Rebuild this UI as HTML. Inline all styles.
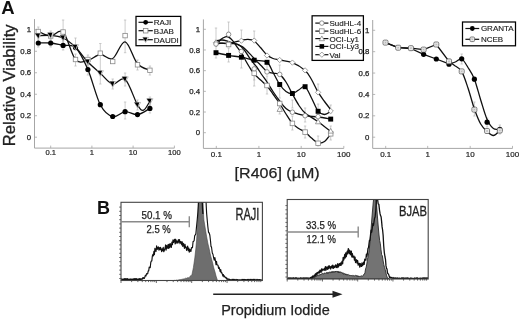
<!DOCTYPE html>
<html><head><meta charset="utf-8"><style>
html,body{margin:0;padding:0;background:#fff;width:520px;height:319px;overflow:hidden;}
svg{display:block;font-family:"Liberation Sans",sans-serif;will-change:transform;}
</style></head><body>
<svg width="520" height="319" viewBox="0 0 520 319" font-family="Liberation Sans, sans-serif">
<rect width="520" height="319" fill="#fff"/>
<text x="1.2" y="13.9" font-size="18.5" text-anchor="start" font-weight="bold" fill="#111" >A</text>
<text x="97.1" y="214.1" font-size="18" text-anchor="start" font-weight="bold" fill="#111" >B</text>
<text transform="translate(14.6,146.2) rotate(-90)" font-size="16.2" fill="#222" stroke="#222" stroke-width="0.3" textLength="121.8" lengthAdjust="spacingAndGlyphs">Relative Viability</text>
<text x="234.6" y="178" font-size="14.8" fill="#222" stroke="#222" stroke-width="0.25" textLength="85" lengthAdjust="spacingAndGlyphs">[R406] (&#181;M)</text>
<path d="M34.5,19.1 L34.5,148.1 L174.4,148.1" fill="none" stroke="#a6a6a6" stroke-width="1"/>
<path d="M34.5,137.2 L37,137.2" stroke="#a6a6a6" stroke-width="0.8"/>
<text x="31.2" y="139.8" font-size="7.8" text-anchor="end" font-weight="normal" fill="#222" stroke="#222" stroke-width="0.25">0</text>
<path d="M34.5,115.72 L37,115.72" stroke="#a6a6a6" stroke-width="0.8"/>
<text x="31.2" y="118.32" font-size="7.8" text-anchor="end" font-weight="normal" fill="#222" stroke="#222" stroke-width="0.25">0.2</text>
<path d="M34.5,94.24 L37,94.24" stroke="#a6a6a6" stroke-width="0.8"/>
<text x="31.2" y="96.84" font-size="7.8" text-anchor="end" font-weight="normal" fill="#222" stroke="#222" stroke-width="0.25">0.4</text>
<path d="M34.5,72.76 L37,72.76" stroke="#a6a6a6" stroke-width="0.8"/>
<text x="31.2" y="75.36" font-size="7.8" text-anchor="end" font-weight="normal" fill="#222" stroke="#222" stroke-width="0.25">0.6</text>
<path d="M34.5,51.28 L37,51.28" stroke="#a6a6a6" stroke-width="0.8"/>
<text x="31.2" y="53.88" font-size="7.8" text-anchor="end" font-weight="normal" fill="#222" stroke="#222" stroke-width="0.25">0.8</text>
<path d="M34.5,29.8 L37,29.8" stroke="#a6a6a6" stroke-width="0.8"/>
<text x="31.2" y="32.4" font-size="7.8" text-anchor="end" font-weight="normal" fill="#222" stroke="#222" stroke-width="0.25">1</text>
<path d="M50.7,148.1 L50.7,145.6" stroke="#a6a6a6" stroke-width="0.8"/>
<text x="50.7" y="155" font-size="7.6" text-anchor="middle" font-weight="normal" fill="#222" stroke="#222" stroke-width="0.2">0.1</text>
<path d="M91.9,148.1 L91.9,145.6" stroke="#a6a6a6" stroke-width="0.8"/>
<text x="91.9" y="155" font-size="7.6" text-anchor="middle" font-weight="normal" fill="#222" stroke="#222" stroke-width="0.2">1</text>
<path d="M133.1,148.1 L133.1,145.6" stroke="#a6a6a6" stroke-width="0.8"/>
<text x="133.1" y="155" font-size="7.6" text-anchor="middle" font-weight="normal" fill="#222" stroke="#222" stroke-width="0.2">10</text>
<path d="M174.4,148.1 L174.4,145.6" stroke="#a6a6a6" stroke-width="0.8"/>
<text x="174.4" y="155" font-size="7.6" text-anchor="middle" font-weight="normal" fill="#222" stroke="#222" stroke-width="0.2">100</text>
<path d="M38.3,27 L38.3,36 M37.1,27 L39.5,27 M37.1,36 L39.5,36" stroke="#b8b8b8" stroke-width="0.7" fill="none"/>
<path d="M38.3,39 L38.3,47 M37.1,39 L39.5,39 M37.1,47 L39.5,47" stroke="#b8b8b8" stroke-width="0.7" fill="none"/>
<path d="M50.7,31 L50.7,40 M49.5,31 L51.9,31 M49.5,40 L51.9,40" stroke="#b8b8b8" stroke-width="0.7" fill="none"/>
<path d="M50.7,40 L50.7,47 M49.5,40 L51.9,40 M49.5,47 L51.9,47" stroke="#b8b8b8" stroke-width="0.7" fill="none"/>
<path d="M63.1,20 L63.1,45 M61.9,20 L64.3,20 M61.9,45 L64.3,45" stroke="#b8b8b8" stroke-width="0.7" fill="none"/>
<path d="M63.1,41 L63.1,50 M61.9,41 L64.3,41 M61.9,50 L64.3,50" stroke="#b8b8b8" stroke-width="0.7" fill="none"/>
<path d="M75.5,38 L75.5,50 M74.3,38 L76.7,38 M74.3,50 L76.7,50" stroke="#b8b8b8" stroke-width="0.7" fill="none"/>
<path d="M75.5,54 L75.5,66 M74.3,54 L76.7,54 M74.3,66 L76.7,66" stroke="#b8b8b8" stroke-width="0.7" fill="none"/>
<path d="M87.9,55 L87.9,66 M86.7,55 L89.1,55 M86.7,66 L89.1,66" stroke="#b8b8b8" stroke-width="0.7" fill="none"/>
<path d="M87.9,64 L87.9,75 M86.7,64 L89.1,64 M86.7,75 L89.1,75" stroke="#b8b8b8" stroke-width="0.7" fill="none"/>
<path d="M100.3,43.5 L100.3,84 M99.1,43.5 L101.5,43.5 M99.1,84 L101.5,84" stroke="#b8b8b8" stroke-width="0.7" fill="none"/>
<path d="M112.7,79 L112.7,89 M111.5,79 L113.9,79 M111.5,89 L113.9,89" stroke="#b8b8b8" stroke-width="0.7" fill="none"/>
<path d="M125.1,20 L125.1,52.7 M123.9,20 L126.3,20 M123.9,52.7 L126.3,52.7" stroke="#b8b8b8" stroke-width="0.7" fill="none"/>
<path d="M125.1,102 L125.1,119 M123.9,102 L126.3,102 M123.9,119 L126.3,119" stroke="#b8b8b8" stroke-width="0.7" fill="none"/>
<path d="M125.1,73 L125.1,86 M123.9,73 L126.3,73 M123.9,86 L126.3,86" stroke="#b8b8b8" stroke-width="0.7" fill="none"/>
<path d="M137.5,60 L137.5,70 M136.3,60 L138.7,60 M136.3,70 L138.7,70" stroke="#b8b8b8" stroke-width="0.7" fill="none"/>
<path d="M137.5,100 L137.5,110 M136.3,100 L138.7,100 M136.3,110 L138.7,110" stroke="#b8b8b8" stroke-width="0.7" fill="none"/>
<path d="M149.9,66 L149.9,75 M148.7,66 L151.1,66 M148.7,75 L151.1,75" stroke="#b8b8b8" stroke-width="0.7" fill="none"/>
<path d="M149.9,97 L149.9,106 M148.7,97 L151.1,97 M148.7,106 L151.1,106" stroke="#b8b8b8" stroke-width="0.7" fill="none"/>
<path d="M149.9,104 L149.9,113 M148.7,104 L151.1,104 M148.7,113 L151.1,113" stroke="#b8b8b8" stroke-width="0.7" fill="none"/>
<path d="M38.3,31.5 C40.37,32.25 46.57,35.92 50.7,36 C54.83,36.08 58.97,28.08 63.1,32 C67.23,35.92 71.37,54.75 75.5,59.5 C79.63,64.25 83.77,61.33 87.9,60.5 C92.03,59.67 96.17,54.83 100.3,54.5 C104.43,54.17 108.57,60.62 112.7,58.5 C116.83,56.38 120.97,40.93 125.1,41.8 C129.23,42.67 133.37,58.95 137.5,63.7 C141.63,68.45 147.83,69.2 149.9,70.3" fill="none" stroke="#111" stroke-width="1.3" stroke-linejoin="round"/>
<path d="M38.3,35.9 C40.37,35.8 46.57,34.95 50.7,35.3 C54.83,35.65 58.97,36.02 63.1,38 C67.23,39.98 71.37,43.2 75.5,47.2 C79.63,51.2 83.77,57.67 87.9,62 C92.03,66.33 96.17,69.52 100.3,73.2 C104.43,76.88 108.57,83.08 112.7,84.1 C116.83,85.12 120.97,75.83 125.1,79.3 C129.23,82.77 134.42,99.75 137.5,104.9 C140.58,110.05 141.53,110.82 143.6,110.2 C145.67,109.58 148.85,102.7 149.9,101.2" fill="none" stroke="#111" stroke-width="1.3" stroke-linejoin="round"/>
<path d="M38.3,43 C40.37,43 46.57,42.6 50.7,43 C54.83,43.4 58.97,44.65 63.1,45.4 C67.23,46.15 71.37,43.48 75.5,47.5 C79.63,51.52 83.77,59.97 87.9,69.5 C92.03,79.03 96.17,96.87 100.3,104.7 C104.43,112.53 108.57,115.33 112.7,116.5 C116.83,117.67 120.97,112.02 125.1,111.7 C129.23,111.38 133.37,115.15 137.5,114.6 C141.63,114.05 147.83,109.43 149.9,108.4" fill="none" stroke="#111" stroke-width="1.3" stroke-linejoin="round"/>
<circle cx="38.3" cy="43" r="2.6" fill="#000"/>
<circle cx="50.7" cy="43" r="2.6" fill="#000"/>
<circle cx="63.1" cy="45.4" r="2.6" fill="#000"/>
<circle cx="75.5" cy="47.5" r="2.6" fill="#000"/>
<circle cx="87.9" cy="69.5" r="2.6" fill="#000"/>
<circle cx="100.3" cy="104.7" r="2.6" fill="#000"/>
<circle cx="112.7" cy="116.5" r="2.6" fill="#000"/>
<circle cx="125.1" cy="111.7" r="2.6" fill="#000"/>
<circle cx="137.5" cy="114.6" r="2.6" fill="#000"/>
<circle cx="149.9" cy="108.4" r="2.6" fill="#000"/>
<rect x="36.07" y="29.27" width="4.46" height="4.46" fill="#fff" stroke="#888" stroke-width="0.8"/>
<rect x="48.47" y="33.77" width="4.46" height="4.46" fill="#fff" stroke="#888" stroke-width="0.8"/>
<rect x="60.87" y="29.77" width="4.46" height="4.46" fill="#fff" stroke="#888" stroke-width="0.8"/>
<rect x="73.27" y="57.27" width="4.46" height="4.46" fill="#fff" stroke="#888" stroke-width="0.8"/>
<rect x="85.67" y="57.27" width="4.46" height="4.46" fill="#fff" stroke="#888" stroke-width="0.8"/>
<rect x="98.07" y="50.97" width="4.46" height="4.46" fill="#fff" stroke="#888" stroke-width="0.8"/>
<rect x="110.47" y="59.27" width="4.46" height="4.46" fill="#fff" stroke="#888" stroke-width="0.8"/>
<rect x="122.87" y="33.37" width="4.46" height="4.46" fill="#fff" stroke="#888" stroke-width="0.8"/>
<rect x="135.27" y="62.57" width="4.46" height="4.46" fill="#fff" stroke="#888" stroke-width="0.8"/>
<rect x="147.67" y="68.07" width="4.46" height="4.46" fill="#fff" stroke="#888" stroke-width="0.8"/>
<path d="M35.18,33.4 L41.42,33.4 L38.3,39.02 Z" fill="#fff" stroke="#999" stroke-width="0.6"/>
<path d="M35.18,33.4 L40.02,33.4 L38.46,38.24 Z" fill="#000"/>
<path d="M47.58,32.8 L53.82,32.8 L50.7,38.42 Z" fill="#fff" stroke="#999" stroke-width="0.6"/>
<path d="M47.58,32.8 L52.42,32.8 L50.86,37.64 Z" fill="#000"/>
<path d="M59.98,35.5 L66.22,35.5 L63.1,41.12 Z" fill="#fff" stroke="#999" stroke-width="0.6"/>
<path d="M59.98,35.5 L64.82,35.5 L63.26,40.34 Z" fill="#000"/>
<path d="M72.38,44.7 L78.62,44.7 L75.5,50.32 Z" fill="#fff" stroke="#999" stroke-width="0.6"/>
<path d="M72.38,44.7 L77.22,44.7 L75.66,49.54 Z" fill="#000"/>
<path d="M84.78,59.5 L91.02,59.5 L87.9,65.12 Z" fill="#fff" stroke="#999" stroke-width="0.6"/>
<path d="M84.78,59.5 L89.62,59.5 L88.06,64.34 Z" fill="#000"/>
<path d="M97.18,70.7 L103.42,70.7 L100.3,76.32 Z" fill="#fff" stroke="#999" stroke-width="0.6"/>
<path d="M97.18,70.7 L102.02,70.7 L100.46,75.54 Z" fill="#000"/>
<path d="M109.58,81.6 L115.82,81.6 L112.7,87.22 Z" fill="#fff" stroke="#999" stroke-width="0.6"/>
<path d="M109.58,81.6 L114.42,81.6 L112.86,86.44 Z" fill="#000"/>
<path d="M121.98,76.8 L128.22,76.8 L125.1,82.42 Z" fill="#fff" stroke="#999" stroke-width="0.6"/>
<path d="M121.98,76.8 L126.82,76.8 L125.26,81.64 Z" fill="#000"/>
<path d="M134.38,102.4 L140.62,102.4 L137.5,108.02 Z" fill="#fff" stroke="#999" stroke-width="0.6"/>
<path d="M134.38,102.4 L139.22,102.4 L137.66,107.24 Z" fill="#000"/>
<path d="M146.78,98.7 L153.02,98.7 L149.9,104.32 Z" fill="#fff" stroke="#999" stroke-width="0.6"/>
<path d="M146.78,98.7 L151.62,98.7 L150.06,103.54 Z" fill="#000"/>
<rect x="136" y="16.4" width="44.8" height="29.3" fill="#fff" stroke="#000" stroke-width="1.25"/>
<path d="M138.5,22.3 L152.8,22.3" stroke="#111" stroke-width="1.2"/>
<circle cx="145.65" cy="22.3" r="2.4" fill="#000"/>
<text x="153.8" y="25.2" font-size="8" text-anchor="start" font-weight="normal" fill="#222" stroke="#222" stroke-width="0.15">RAJI</text>
<path d="M138.5,30.7 L152.8,30.7" stroke="#111" stroke-width="1.2"/>
<rect x="143.37" y="28.42" width="4.56" height="4.56" fill="#fff" stroke="#888" stroke-width="0.8"/>
<text x="153.8" y="33.6" font-size="8" text-anchor="start" font-weight="normal" fill="#222" stroke="#222" stroke-width="0.15">BJAB</text>
<path d="M138.5,39.7 L152.8,39.7" stroke="#111" stroke-width="1.2"/>
<path d="M142.77,37.4 L148.53,37.4 L145.65,42.58 Z" fill="#fff" stroke="#999" stroke-width="0.6"/>
<path d="M142.77,37.4 L147.23,37.4 L145.79,41.86 Z" fill="#000"/>
<text x="153.8" y="42.6" font-size="8" text-anchor="start" font-weight="normal" fill="#222" stroke="#222" stroke-width="0.15">DAUDI</text>
<path d="M203.4,19.4 L203.4,148.4 L343.8,148.4" fill="none" stroke="#a6a6a6" stroke-width="1"/>
<path d="M203.4,132.7 L205.9,132.7" stroke="#a6a6a6" stroke-width="0.8"/>
<text x="200.1" y="135.3" font-size="7.8" text-anchor="end" font-weight="normal" fill="#222" stroke="#222" stroke-width="0.25">0</text>
<path d="M203.4,112.02 L205.9,112.02" stroke="#a6a6a6" stroke-width="0.8"/>
<text x="200.1" y="114.62" font-size="7.8" text-anchor="end" font-weight="normal" fill="#222" stroke="#222" stroke-width="0.25">0.2</text>
<path d="M203.4,91.34 L205.9,91.34" stroke="#a6a6a6" stroke-width="0.8"/>
<text x="200.1" y="93.94" font-size="7.8" text-anchor="end" font-weight="normal" fill="#222" stroke="#222" stroke-width="0.25">0.4</text>
<path d="M203.4,70.66 L205.9,70.66" stroke="#a6a6a6" stroke-width="0.8"/>
<text x="200.1" y="73.26" font-size="7.8" text-anchor="end" font-weight="normal" fill="#222" stroke="#222" stroke-width="0.25">0.6</text>
<path d="M203.4,49.98 L205.9,49.98" stroke="#a6a6a6" stroke-width="0.8"/>
<text x="200.1" y="52.58" font-size="7.8" text-anchor="end" font-weight="normal" fill="#222" stroke="#222" stroke-width="0.25">0.8</text>
<path d="M203.4,29.3 L205.9,29.3" stroke="#a6a6a6" stroke-width="0.8"/>
<text x="200.1" y="31.9" font-size="7.8" text-anchor="end" font-weight="normal" fill="#222" stroke="#222" stroke-width="0.25">1</text>
<path d="M216.3,148.4 L216.3,145.9" stroke="#a6a6a6" stroke-width="0.8"/>
<text x="216.3" y="156.5" font-size="8" text-anchor="middle" font-weight="normal" fill="#222" stroke="#222" stroke-width="0.2">0.1</text>
<path d="M258.9,148.4 L258.9,145.9" stroke="#a6a6a6" stroke-width="0.8"/>
<text x="258.9" y="156.5" font-size="8" text-anchor="middle" font-weight="normal" fill="#222" stroke="#222" stroke-width="0.2">1</text>
<path d="M301.2,148.4 L301.2,145.9" stroke="#a6a6a6" stroke-width="0.8"/>
<text x="301.2" y="156.5" font-size="8" text-anchor="middle" font-weight="normal" fill="#222" stroke="#222" stroke-width="0.2">10</text>
<path d="M343.8,148.4 L343.8,145.9" stroke="#a6a6a6" stroke-width="0.8"/>
<text x="343.8" y="156.5" font-size="8" text-anchor="middle" font-weight="normal" fill="#222" stroke="#222" stroke-width="0.2">100</text>
<path d="M216,28 L216,40 M214.8,28 L217.2,28 M214.8,40 L217.2,40" stroke="#b8b8b8" stroke-width="0.7" fill="none"/>
<path d="M216,46 L216,58 M214.8,46 L217.2,46 M214.8,58 L217.2,58" stroke="#b8b8b8" stroke-width="0.7" fill="none"/>
<path d="M228.6,22 L228.6,32 M227.4,22 L229.8,22 M227.4,32 L229.8,32" stroke="#b8b8b8" stroke-width="0.7" fill="none"/>
<path d="M228.6,48 L228.6,62 M227.4,48 L229.8,48 M227.4,62 L229.8,62" stroke="#b8b8b8" stroke-width="0.7" fill="none"/>
<path d="M241.4,30 L241.4,40 M240.2,30 L242.6,30 M240.2,40 L242.6,40" stroke="#b8b8b8" stroke-width="0.7" fill="none"/>
<path d="M241.4,58 L241.4,68 M240.2,58 L242.6,58 M240.2,68 L242.6,68" stroke="#b8b8b8" stroke-width="0.7" fill="none"/>
<path d="M254.2,31 L254.2,39 M253,31 L255.4,31 M253,39 L255.4,39" stroke="#b8b8b8" stroke-width="0.7" fill="none"/>
<path d="M254.2,64 L254.2,80 M253,64 L255.4,64 M253,80 L255.4,80" stroke="#b8b8b8" stroke-width="0.7" fill="none"/>
<path d="M254.2,76 L254.2,86 M253,76 L255.4,76 M253,86 L255.4,86" stroke="#b8b8b8" stroke-width="0.7" fill="none"/>
<path d="M267,76 L267,94 M265.8,76 L268.2,76 M265.8,94 L268.2,94" stroke="#b8b8b8" stroke-width="0.7" fill="none"/>
<path d="M267,64 L267,72 M265.8,64 L268.2,64 M265.8,72 L268.2,72" stroke="#b8b8b8" stroke-width="0.7" fill="none"/>
<path d="M279.7,65 L279.7,73 M278.5,65 L280.9,65 M278.5,73 L280.9,73" stroke="#b8b8b8" stroke-width="0.7" fill="none"/>
<path d="M279.7,88 L279.7,98 M278.5,88 L280.9,88 M278.5,98 L280.9,98" stroke="#b8b8b8" stroke-width="0.7" fill="none"/>
<path d="M279.7,106 L279.7,114 M278.5,106 L280.9,106 M278.5,114 L280.9,114" stroke="#b8b8b8" stroke-width="0.7" fill="none"/>
<path d="M292.4,100 L292.4,108 M291.2,100 L293.6,100 M291.2,108 L293.6,108" stroke="#b8b8b8" stroke-width="0.7" fill="none"/>
<path d="M292.4,116 L292.4,130 M291.2,116 L293.6,116 M291.2,130 L293.6,130" stroke="#b8b8b8" stroke-width="0.7" fill="none"/>
<path d="M305.1,108 L305.1,122 M303.9,108 L306.3,108 M303.9,122 L306.3,122" stroke="#b8b8b8" stroke-width="0.7" fill="none"/>
<path d="M305.1,126 L305.1,138 M303.9,126 L306.3,126 M303.9,138 L306.3,138" stroke="#b8b8b8" stroke-width="0.7" fill="none"/>
<path d="M318.1,84 L318.1,92 M316.9,84 L319.3,84 M316.9,92 L319.3,92" stroke="#b8b8b8" stroke-width="0.7" fill="none"/>
<path d="M318.1,104 L318.1,116 M316.9,104 L319.3,104 M316.9,116 L319.3,116" stroke="#b8b8b8" stroke-width="0.7" fill="none"/>
<path d="M318.1,136 L318.1,146 M316.9,136 L319.3,136 M316.9,146 L319.3,146" stroke="#b8b8b8" stroke-width="0.7" fill="none"/>
<path d="M330.7,105 L330.7,113 M329.5,105 L331.9,105 M329.5,113 L331.9,113" stroke="#b8b8b8" stroke-width="0.7" fill="none"/>
<path d="M330.7,126 L330.7,140 M329.5,126 L331.9,126 M329.5,140 L331.9,140" stroke="#b8b8b8" stroke-width="0.7" fill="none"/>
<path d="M216,42.6 C218.1,42.77 224.37,43.98 228.6,43.6 C232.83,43.22 238.17,41.02 241.4,40.3 C244.63,39.58 245.87,39.18 248,39.3 C250.13,39.42 252.12,39.63 254.2,41 C256.28,42.37 258.37,45.17 260.5,47.5 C262.63,49.83 264.92,53.17 267,55 C269.08,56.83 270.88,57.67 273,58.5 C275.12,59.33 276.47,59.32 279.7,60 C282.93,60.68 288.17,60.87 292.4,62.6 C296.63,64.33 301.92,67.58 305.1,70.4 C308.28,73.22 309.33,75.87 311.5,79.5 C313.67,83.13 315.93,88.53 318.1,92.2 C320.27,95.87 322.4,98.62 324.5,101.5 C326.6,104.38 329.67,108.17 330.7,109.5" fill="none" stroke="#111" stroke-width="1.3" stroke-linejoin="round"/>
<path d="M216,52.7 C218.1,53.15 224.37,54.65 228.6,55.4 C232.83,56.15 237.13,56.4 241.4,57.2 C245.67,58 249.93,59.33 254.2,60.2 C258.47,61.07 263.82,60.27 267,62.4 C270.18,64.53 271.18,69.32 273.3,73 C275.42,76.68 277.58,81.42 279.7,84.5 C281.82,87.58 283.88,90 286,91.5 C288.12,93 290.28,93.75 292.4,93.5 C294.52,93.25 296.58,91.13 298.7,90 C300.82,88.87 302.97,85.37 305.1,86.7 C307.23,88.03 309.33,93.92 311.5,98 C313.67,102.08 315.93,108.45 318.1,111.2 C320.27,113.95 322.4,114.45 324.5,114.5 C326.6,114.55 329.67,112 330.7,111.5" fill="none" stroke="#111" stroke-width="1.3" stroke-linejoin="round"/>
<path d="M216,46 C216.78,44.92 219.13,41.03 220.7,39.5 C222.27,37.97 224.08,37.18 225.4,36.8 C226.72,36.42 227.43,36.6 228.6,37.2 C229.77,37.8 231.12,38.95 232.4,40.4 C233.68,41.85 234.8,43.8 236.3,45.9 C237.8,48 239.83,50.53 241.4,53 C242.97,55.47 244.2,58.1 245.7,60.7 C247.2,63.3 248.98,66.38 250.4,68.6 C251.82,70.82 252.5,72.1 254.2,74 C255.9,75.9 258.47,78 260.6,80 C262.73,82 264.88,83.58 267,86 C269.12,88.42 271.18,91.58 273.3,94.5 C275.42,97.42 277.58,100.25 279.7,103.5 C281.82,106.75 283.88,110.68 286,114 C288.12,117.32 290.28,120.98 292.4,123.4 C294.52,125.82 296.58,127.05 298.7,128.5 C300.82,129.95 302.97,130.52 305.1,132.1 C307.23,133.68 309.33,136.22 311.5,138 C313.67,139.78 315.93,142.22 318.1,142.8 C320.27,143.38 322.4,142.97 324.5,141.5 C326.6,140.03 329.67,135.25 330.7,134" fill="none" stroke="#111" stroke-width="1.3" stroke-linejoin="round"/>
<path d="M216,44 C217,43.87 219.9,43.28 222,43.2 C224.1,43.12 226.6,43.43 228.6,43.5 C230.6,43.57 232.32,43.38 234,43.6 C235.68,43.82 237,43.77 238.7,44.8 C240.4,45.83 242.25,47.4 244.2,49.8 C246.15,52.2 248.32,56.33 250.4,59.2 C252.48,62.07 254.77,64.37 256.7,67 C258.63,69.63 260.28,72.5 262,75 C263.72,77.5 265.12,79.17 267,82 C268.88,84.83 271.18,88.83 273.3,92 C275.42,95.17 277.58,98.25 279.7,101 C281.82,103.75 283.88,106.63 286,108.5 C288.12,110.37 289.22,111 292.4,112.2 C295.58,113.4 300.82,114.9 305.1,115.7 C309.38,116.5 313.83,116.45 318.1,117 C322.37,117.55 328.6,118.67 330.7,119" fill="none" stroke="#111" stroke-width="1.3" stroke-linejoin="round"/>
<path d="M216,41 C217,40.83 219.9,39.92 222,40 C224.1,40.08 226.27,40.83 228.6,41.5 C230.93,42.17 233.67,43.1 236,44 C238.33,44.9 240.45,45.42 242.6,46.9 C244.75,48.38 246.97,50.97 248.9,52.9 C250.83,54.83 252.6,56.82 254.2,58.5 C255.8,60.18 257.2,61.67 258.5,63 C259.8,64.33 260.58,65.07 262,66.5 C263.42,67.93 265.12,70.48 267,71.6 C268.88,72.72 271.18,72.7 273.3,73.2 C275.42,73.7 277.58,73.13 279.7,74.6 C281.82,76.07 283.88,78.77 286,82 C288.12,85.23 290.28,90.17 292.4,94 C294.52,97.83 296.58,101.83 298.7,105 C300.82,108.17 301.87,110.22 305.1,113 C308.33,115.78 313.83,118.62 318.1,121.7 C322.37,124.78 328.6,129.87 330.7,131.5" fill="none" stroke="#111" stroke-width="1.3" stroke-linejoin="round"/>
<path d="M216,39.96 L218.64,42.6 L216,45.24 L213.36,42.6 Z" fill="#fff" stroke="#888" stroke-width="0.8"/>
<path d="M228.6,41.16 L231.24,43.8 L228.6,46.44 L225.96,43.8 Z" fill="#fff" stroke="#888" stroke-width="0.8"/>
<path d="M241.4,38.06 L244.04,40.7 L241.4,43.34 L238.76,40.7 Z" fill="#fff" stroke="#888" stroke-width="0.8"/>
<path d="M254.2,37.96 L256.84,40.6 L254.2,43.24 L251.56,40.6 Z" fill="#fff" stroke="#888" stroke-width="0.8"/>
<path d="M267,52.86 L269.64,55.5 L267,58.14 L264.36,55.5 Z" fill="#fff" stroke="#888" stroke-width="0.8"/>
<path d="M279.7,57.36 L282.34,60 L279.7,62.64 L277.06,60 Z" fill="#fff" stroke="#888" stroke-width="0.8"/>
<path d="M292.4,59.96 L295.04,62.6 L292.4,65.24 L289.76,62.6 Z" fill="#fff" stroke="#888" stroke-width="0.8"/>
<path d="M305.1,67.76 L307.74,70.4 L305.1,73.04 L302.46,70.4 Z" fill="#fff" stroke="#888" stroke-width="0.8"/>
<path d="M318.1,89.76 L320.74,92.4 L318.1,95.04 L315.46,92.4 Z" fill="#fff" stroke="#888" stroke-width="0.8"/>
<path d="M330.7,108.36 L333.34,111 L330.7,113.64 L328.06,111 Z" fill="#fff" stroke="#888" stroke-width="0.8"/>
<circle cx="216" cy="44" r="2.28" fill="#fff" stroke="#777" stroke-width="0.8"/>
<circle cx="228.6" cy="34.4" r="2.28" fill="#fff" stroke="#777" stroke-width="0.8"/>
<circle cx="241.4" cy="51.5" r="2.28" fill="#fff" stroke="#777" stroke-width="0.8"/>
<circle cx="254.2" cy="68.9" r="2.28" fill="#fff" stroke="#777" stroke-width="0.8"/>
<circle cx="267" cy="71.9" r="2.28" fill="#fff" stroke="#777" stroke-width="0.8"/>
<circle cx="279.7" cy="74.4" r="2.28" fill="#fff" stroke="#777" stroke-width="0.8"/>
<circle cx="292.4" cy="112.2" r="2.28" fill="#fff" stroke="#777" stroke-width="0.8"/>
<circle cx="305.1" cy="115.7" r="2.28" fill="#fff" stroke="#777" stroke-width="0.8"/>
<circle cx="318.1" cy="116.6" r="2.28" fill="#fff" stroke="#777" stroke-width="0.8"/>
<rect x="226.32" y="42.22" width="4.56" height="4.56" fill="#fff" stroke="#888" stroke-width="0.8"/>
<rect x="251.92" y="71.02" width="4.56" height="4.56" fill="#fff" stroke="#888" stroke-width="0.8"/>
<rect x="264.72" y="83.22" width="4.56" height="4.56" fill="#fff" stroke="#888" stroke-width="0.8"/>
<rect x="277.42" y="101.22" width="4.56" height="4.56" fill="#fff" stroke="#888" stroke-width="0.8"/>
<rect x="290.12" y="121.12" width="4.56" height="4.56" fill="#fff" stroke="#888" stroke-width="0.8"/>
<rect x="302.82" y="129.82" width="4.56" height="4.56" fill="#fff" stroke="#888" stroke-width="0.8"/>
<rect x="315.82" y="141.02" width="4.56" height="4.56" fill="#fff" stroke="#888" stroke-width="0.8"/>
<rect x="328.42" y="131.52" width="4.56" height="4.56" fill="#fff" stroke="#888" stroke-width="0.8"/>
<path d="M279.7,106.66 L282.34,111.41 L277.06,111.41 Z" fill="#fff" stroke="#888" stroke-width="0.8"/>
<path d="M318.1,119.06 L320.74,123.81 L315.46,123.81 Z" fill="#fff" stroke="#888" stroke-width="0.8"/>
<path d="M330.7,128.36 L333.34,133.11 L328.06,133.11 Z" fill="#fff" stroke="#888" stroke-width="0.8"/>
<rect x="213.53" y="50.23" width="4.94" height="4.94" fill="#000"/>
<rect x="226.13" y="52.93" width="4.94" height="4.94" fill="#000"/>
<rect x="238.93" y="54.73" width="4.94" height="4.94" fill="#000"/>
<rect x="251.73" y="57.73" width="4.94" height="4.94" fill="#000"/>
<rect x="264.53" y="59.83" width="4.94" height="4.94" fill="#000"/>
<rect x="277.23" y="82.03" width="4.94" height="4.94" fill="#000"/>
<rect x="289.93" y="91.03" width="4.94" height="4.94" fill="#000"/>
<rect x="302.63" y="84.23" width="4.94" height="4.94" fill="#000"/>
<rect x="315.63" y="108.83" width="4.94" height="4.94" fill="#000"/>
<rect x="328.23" y="116.63" width="4.94" height="4.94" fill="#000"/>
<rect x="312.1" y="15.8" width="51.3" height="44.6" fill="#fff" stroke="#000" stroke-width="1.25"/>
<path d="M315.3,23.1 L328.4,23.1" stroke="#111" stroke-width="1.2"/>
<circle cx="321.85" cy="23.1" r="2.28" fill="#fff" stroke="#777" stroke-width="0.8"/>
<text x="329.5" y="26" font-size="8" text-anchor="start" font-weight="normal" fill="#222" stroke="#222" stroke-width="0.15">SudHL-4</text>
<path d="M315.3,31.1 L328.4,31.1" stroke="#111" stroke-width="1.2"/>
<rect x="319.57" y="28.82" width="4.56" height="4.56" fill="#fff" stroke="#888" stroke-width="0.8"/>
<text x="329.5" y="34" font-size="8" text-anchor="start" font-weight="normal" fill="#222" stroke="#222" stroke-width="0.15">SudHL-6</text>
<path d="M315.3,38.6 L328.4,38.6" stroke="#111" stroke-width="1.2"/>
<path d="M321.85,35.96 L324.49,40.71 L319.21,40.71 Z" fill="#fff" stroke="#888" stroke-width="0.8"/>
<text x="329.5" y="41.5" font-size="8" text-anchor="start" font-weight="normal" fill="#222" stroke="#222" stroke-width="0.15">OCI-Ly1</text>
<path d="M315.3,46.4 L328.4,46.4" stroke="#111" stroke-width="1.2"/>
<rect x="319.57" y="44.12" width="4.56" height="4.56" fill="#000"/>
<text x="329.5" y="49.3" font-size="8" text-anchor="start" font-weight="normal" fill="#222" stroke="#222" stroke-width="0.15">OCI-Ly3</text>
<path d="M315.3,54.7 L328.4,54.7" stroke="#111" stroke-width="1.2"/>
<path d="M321.85,52.06 L324.49,54.7 L321.85,57.34 L319.21,54.7 Z" fill="#fff" stroke="#888" stroke-width="0.8"/>
<text x="329.5" y="57.6" font-size="8" text-anchor="start" font-weight="normal" fill="#222" stroke="#222" stroke-width="0.15">Val</text>
<path d="M372.7,20 L372.7,148.4 L512.5,148.4" fill="none" stroke="#a6a6a6" stroke-width="1"/>
<path d="M372.7,137.2 L375.2,137.2" stroke="#a6a6a6" stroke-width="0.8"/>
<text x="369.4" y="139.8" font-size="7.8" text-anchor="end" font-weight="normal" fill="#222" stroke="#222" stroke-width="0.25">0</text>
<path d="M372.7,115.82 L375.2,115.82" stroke="#a6a6a6" stroke-width="0.8"/>
<text x="369.4" y="118.42" font-size="7.8" text-anchor="end" font-weight="normal" fill="#222" stroke="#222" stroke-width="0.25">0.2</text>
<path d="M372.7,94.44 L375.2,94.44" stroke="#a6a6a6" stroke-width="0.8"/>
<text x="369.4" y="97.04" font-size="7.8" text-anchor="end" font-weight="normal" fill="#222" stroke="#222" stroke-width="0.25">0.4</text>
<path d="M372.7,73.06 L375.2,73.06" stroke="#a6a6a6" stroke-width="0.8"/>
<text x="369.4" y="75.66" font-size="7.8" text-anchor="end" font-weight="normal" fill="#222" stroke="#222" stroke-width="0.25">0.6</text>
<path d="M372.7,51.68 L375.2,51.68" stroke="#a6a6a6" stroke-width="0.8"/>
<text x="369.4" y="54.28" font-size="7.8" text-anchor="end" font-weight="normal" fill="#222" stroke="#222" stroke-width="0.25">0.8</text>
<path d="M372.7,30.3 L375.2,30.3" stroke="#a6a6a6" stroke-width="0.8"/>
<text x="369.4" y="32.9" font-size="7.8" text-anchor="end" font-weight="normal" fill="#222" stroke="#222" stroke-width="0.25">1</text>
<path d="M385.7,148.4 L385.7,145.9" stroke="#a6a6a6" stroke-width="0.8"/>
<text x="385.7" y="156.5" font-size="8" text-anchor="middle" font-weight="normal" fill="#222" stroke="#222" stroke-width="0.2">0.1</text>
<path d="M427.7,148.4 L427.7,145.9" stroke="#a6a6a6" stroke-width="0.8"/>
<text x="427.7" y="156.5" font-size="8" text-anchor="middle" font-weight="normal" fill="#222" stroke="#222" stroke-width="0.2">1</text>
<path d="M470.2,148.4 L470.2,145.9" stroke="#a6a6a6" stroke-width="0.8"/>
<text x="470.2" y="156.5" font-size="8" text-anchor="middle" font-weight="normal" fill="#222" stroke="#222" stroke-width="0.2">10</text>
<path d="M512.5,148.4 L512.5,145.9" stroke="#a6a6a6" stroke-width="0.8"/>
<text x="512.5" y="156.5" font-size="8" text-anchor="middle" font-weight="normal" fill="#222" stroke="#222" stroke-width="0.2">100</text>
<path d="M474.4,102 L474.4,116 M473.2,102 L475.6,102 M473.2,116 L475.6,116" stroke="#b8b8b8" stroke-width="0.7" fill="none"/>
<path d="M487.1,118 L487.1,127 M485.9,118 L488.3,118 M485.9,127 L488.3,127" stroke="#b8b8b8" stroke-width="0.7" fill="none"/>
<path d="M499.8,125 L499.8,134 M498.6,125 L501,125 M498.6,134 L501,134" stroke="#b8b8b8" stroke-width="0.7" fill="none"/>
<path d="M461.7,54 L461.7,64 M460.5,54 L462.9,54 M460.5,64 L462.9,64" stroke="#b8b8b8" stroke-width="0.7" fill="none"/>
<path d="M385.5,42.6 L398.2,47.7 L410.9,48.5 L423.6,54.3 L436.3,59 L449,63.8" fill="none" stroke="#111" stroke-width="1.3" stroke-linejoin="round"/>
<path d="M449,63.8 C450.05,63.5 453.18,62.8 455.3,62 C457.42,61.2 459.58,58.08 461.7,59 C463.82,59.92 465.88,64.13 468,67.5 C470.12,70.87 472.28,73.78 474.4,79.2 C476.52,84.62 478.58,93.28 480.7,100 C482.82,106.72 484.98,114.75 487.1,119.5 C489.22,124.25 491.28,126.92 493.4,128.5 C495.52,130.08 498.73,128.92 499.8,129" fill="none" stroke="#111" stroke-width="1.3" stroke-linejoin="round"/>
<path d="M385.5,42.6 L398.2,47.7 L410.9,48.2 L423.6,49.6 L436.3,44.5 L449,61.4 L455.3,66" fill="none" stroke="#111" stroke-width="1.3" stroke-linejoin="round"/>
<path d="M455.3,66 C456.37,66.9 459.58,67.73 461.7,71.4 C463.82,75.07 465.88,81.73 468,88 C470.12,94.27 472.28,103 474.4,109 C476.52,115 478.58,120.25 480.7,124 C482.82,127.75 484.98,129.58 487.1,131.5 C489.22,133.42 491.28,135.67 493.4,135.5 C495.52,135.33 498.73,131.33 499.8,130.5" fill="none" stroke="#111" stroke-width="1.3" stroke-linejoin="round"/>
<circle cx="423.6" cy="54.3" r="2.6" fill="#000"/>
<circle cx="436.3" cy="59" r="2.6" fill="#000"/>
<circle cx="449" cy="64.2" r="2.6" fill="#000"/>
<circle cx="461.7" cy="58.8" r="2.6" fill="#000"/>
<circle cx="474.4" cy="79.2" r="2.6" fill="#000"/>
<circle cx="487.1" cy="122.2" r="2.6" fill="#000"/>
<circle cx="499.8" cy="129.4" r="2.6" fill="#000"/>
<rect x="383.03" y="40.13" width="4.94" height="4.94" rx="1.23" fill="#fff" stroke="#555" stroke-width="0.8"/>
<path d="M383.89,40.99 L387.11,44.21 M387.11,40.99 L383.89,44.21 M383.89,42.6 L387.11,42.6 M385.5,40.99 L385.5,44.21" stroke="#b5b5b5" stroke-width="0.5"/>
<rect x="395.73" y="45.23" width="4.94" height="4.94" rx="1.23" fill="#fff" stroke="#555" stroke-width="0.8"/>
<path d="M396.59,46.09 L399.81,49.31 M399.81,46.09 L396.59,49.31 M396.59,47.7 L399.81,47.7 M398.2,46.09 L398.2,49.31" stroke="#b5b5b5" stroke-width="0.5"/>
<rect x="408.43" y="45.73" width="4.94" height="4.94" rx="1.23" fill="#fff" stroke="#555" stroke-width="0.8"/>
<path d="M409.29,46.59 L412.51,49.81 M412.51,46.59 L409.29,49.81 M409.29,48.2 L412.51,48.2 M410.9,46.59 L410.9,49.81" stroke="#b5b5b5" stroke-width="0.5"/>
<rect x="421.13" y="47.13" width="4.94" height="4.94" rx="1.23" fill="#fff" stroke="#555" stroke-width="0.8"/>
<path d="M421.99,47.99 L425.21,51.21 M425.21,47.99 L421.99,51.21 M421.99,49.6 L425.21,49.6 M423.6,47.99 L423.6,51.21" stroke="#b5b5b5" stroke-width="0.5"/>
<rect x="433.83" y="42.03" width="4.94" height="4.94" rx="1.23" fill="#fff" stroke="#555" stroke-width="0.8"/>
<path d="M434.69,42.89 L437.91,46.11 M437.91,42.89 L434.69,46.11 M434.69,44.5 L437.91,44.5 M436.3,42.89 L436.3,46.11" stroke="#b5b5b5" stroke-width="0.5"/>
<rect x="446.53" y="58.93" width="4.94" height="4.94" rx="1.23" fill="#fff" stroke="#555" stroke-width="0.8"/>
<path d="M447.39,59.79 L450.61,63.01 M450.61,59.79 L447.39,63.01 M447.39,61.4 L450.61,61.4 M449,59.79 L449,63.01" stroke="#b5b5b5" stroke-width="0.5"/>
<rect x="459.23" y="68.93" width="4.94" height="4.94" rx="1.23" fill="#fff" stroke="#555" stroke-width="0.8"/>
<path d="M460.09,69.79 L463.31,73.01 M463.31,69.79 L460.09,73.01 M460.09,71.4 L463.31,71.4 M461.7,69.79 L461.7,73.01" stroke="#b5b5b5" stroke-width="0.5"/>
<rect x="471.93" y="107.13" width="4.94" height="4.94" rx="1.23" fill="#fff" stroke="#555" stroke-width="0.8"/>
<path d="M472.79,107.99 L476.01,111.21 M476.01,107.99 L472.79,111.21 M472.79,109.6 L476.01,109.6 M474.4,107.99 L474.4,111.21" stroke="#b5b5b5" stroke-width="0.5"/>
<rect x="484.63" y="128.53" width="4.94" height="4.94" rx="1.23" fill="#fff" stroke="#555" stroke-width="0.8"/>
<path d="M485.49,129.39 L488.71,132.61 M488.71,129.39 L485.49,132.61 M485.49,131 L488.71,131 M487.1,129.39 L487.1,132.61" stroke="#b5b5b5" stroke-width="0.5"/>
<rect x="497.33" y="128.03" width="4.94" height="4.94" rx="1.23" fill="#fff" stroke="#555" stroke-width="0.8"/>
<path d="M498.19,128.89 L501.41,132.11 M501.41,128.89 L498.19,132.11 M498.19,130.5 L501.41,130.5 M499.8,128.89 L499.8,132.11" stroke="#b5b5b5" stroke-width="0.5"/>
<rect x="462.5" y="22" width="53" height="23.8" fill="#fff" stroke="#000" stroke-width="1.25"/>
<path d="M465.4,28.5 L479.2,28.5" stroke="#111" stroke-width="1.2"/>
<circle cx="472.3" cy="28.5" r="2.4" fill="#000"/>
<text x="480.9" y="31.4" font-size="8" text-anchor="start" font-weight="normal" fill="#222" stroke="#222" stroke-width="0.15">GRANTA</text>
<path d="M465.4,39.3 L479.2,39.3" stroke="#111" stroke-width="1.2"/>
<rect x="470.02" y="37.02" width="4.56" height="4.56" rx="1.14" fill="#fff" stroke="#555" stroke-width="0.8"/>
<path d="M470.82,37.82 L473.78,40.78 M473.78,37.82 L470.82,40.78 M470.82,39.3 L473.78,39.3 M472.3,37.82 L472.3,40.78" stroke="#b5b5b5" stroke-width="0.5"/>
<text x="480.9" y="42.2" font-size="8" text-anchor="start" font-weight="normal" fill="#222" stroke="#222" stroke-width="0.15">NCEB</text>
<clipPath id="c1"><rect x="121" y="202.3" width="141.4" height="78.2"/></clipPath>
<g clip-path="url(#c1)">
<path d="M174,280.5 L174.86,280.32 L175.72,280.43 L176.58,280.1 L177.44,280.24 L178.3,280 L179.22,279.67 L180.13,279.69 L181.05,279.4 L181.97,279.46 L182.88,278.99 L183.8,278.9 L184.72,278.74 L185.63,278.15 L186.55,278.3 L187.47,277.67 L188.38,277.81 L189.3,277.4 L190.2,276.18 L191.1,275.51 L192,274.4 L193.4,267.6 L194.8,257.9 L195.8,249 L196.6,240 L197.3,230 L197.8,220 L198.2,210 L198.4,201 L199.32,200.43 L200.24,201.72 L201.16,200.51 L202.08,201.63 L203,201 L203.3,210 L203.9,220 L205.2,228 L206.5,236 L208,244 L209,247.91 L210,253 L210.9,256.7 L211.8,260 L212.65,262.91 L213.5,267 L215,272 L216,276 L217.5,280.5 Z" fill="#6e6e6e" stroke="#444" stroke-width="0.6"/>
<path d="M202.3,201 L202.5,208 L202.9,214" stroke="#111" stroke-width="1.3" fill="none"/>
<path d="M121,279.4 L121.5,278.85 L122,279.76 L122.5,279.22 L123,280.13 L123.5,278.92 L124,280.04 L124.5,278.66 L125,280.03 L125.5,278.63 L126,279.82 L126.5,278.71 L127,279.86 L127.5,278.62 L128,280.14 L128.5,279.17 L129,279.65 L129.5,279.09 L130,280.2 L130.5,278.95 L131,279.98 L131.5,279.04 L132,279.9 L132.5,278.98 L133,279.8 L133.5,278.85 L134,279.95 L134.5,278.64 L135,280.01 L135.5,278.62 L136,280.13 L136.5,278.58 L137,280.01 L137.5,279.13 L138,279.4 L138.5,280.08 L139,278.47 L139.5,280.01 L140,278.61 L140.5,279.77 L141,278.74 L141.5,279 L142.05,279.48 L142.6,277.78 L143.15,278.52 L143.7,277.55 L144.25,278.43 L144.8,277.2 L145.4,275.23 L146,275.95 L146.6,273.65 L147.2,274 L147.7,273.56 L148.2,270.83 L148.7,270.94 L149.2,267.09 L149.7,267.5 L150.23,267.59 L150.77,262.51 L151.3,261 L151.83,260.87 L152.37,255.89 L152.9,254.4 L153.4,255.92 L153.9,251.41 L154.4,254.71 L154.9,248.25 L155.4,250.4 L156,251.46 L156.6,245.9 L157.2,249.49 L157.8,247.4 L158.35,246.93 L158.9,250.07 L159.45,247.67 L160,249.74 L160.55,247.4 L161.1,249.3 L161.63,251.57 L162.17,248.73 L162.7,250.6 L163.23,247.42 L163.77,251.65 L164.3,250.5 L165.1,248 L165.6,244.8 L166.1,250.15 L166.6,245.59 L167.1,248.5 L167.6,246.5 L168.13,244.49 L168.67,248.31 L169.2,243.97 L169.73,247.78 L170.27,243.58 L170.8,245.5 L171.35,247.52 L171.9,242.02 L172.45,244.63 L173,239.84 L173.55,242.5 L174.1,240.5 L174.63,239.36 L175.17,243.81 L175.7,239.2 L176.23,243.15 L176.77,240.79 L177.3,241.6 L177.85,243.2 L178.4,239.61 L178.95,242.25 L179.5,239.52 L180.05,243.72 L180.6,241.6 L181.15,241.51 L181.7,245.01 L182.25,241.83 L182.8,246.43 L183.35,243.4 L183.9,245.5 L184.43,248.33 L184.97,244.2 L185.5,247.75 L186.03,246.89 L186.57,250.39 L187.1,248.7 L187.65,246.17 L188.2,250.67 L188.75,248.15 L189.3,252.26 L189.85,249.25 L190.4,251 L190.93,251.47 L191.47,247.65 L192,248 L192.53,247.29 L193.07,241.57 L193.6,241.4 L194.17,240.55 L194.73,235.56 L195.3,234.9 L195.85,233.9 L196.4,228 L197.2,220 L197.9,212 L198.3,206 L198.6,200 L199.13,199.34 L199.66,201.97 L200.19,197.64 L200.71,201.34 L201.24,198.87 L201.77,202.53 L202.3,198.83 L202.83,201.05 L203.36,198.36 L203.89,202.28 L204.41,199.16 L204.94,201.37 L205.47,198.6 L206,200 L206.3,207 L206.6,213 L207.2,219.8 L207.8,226.3 L208.5,232.25 L209.2,233 L209.85,235.25 L210.5,240.8 L211,246.55 L211.5,247 L212.3,253 L212.95,254.24 L213.6,257.5 L214.23,260.07 L214.87,257.67 L215.5,261 L216,264.64 L216.5,261.44 L217,265.01 L217.5,265 L218.03,265.28 L218.55,268.44 L219.07,267.23 L219.6,269 L220.16,271.72 L220.72,269.58 L221.28,272.82 L221.84,272.66 L222.4,274.4 L222.92,276.07 L223.44,274.51 L223.96,277 L224.48,275.92 L225,277 L225.5,277.71 L226,277.33 L226.5,278.96 L227,278.15 L227.5,279.34 L228,279.3 L228.5,278.98 L229,279.97 L229.5,279.23 L230,280.5 L230.5,279.64 L231,280 L231.5,280.15 L232,279.28 L232.5,280.68 L233,279.26 L233.5,280.41 L234,279.28 L234.5,280.71 L235,279.72 L235.5,280.6 L236,279.35 L236.5,280.55 L237,279.54 L237.5,280.32 L238,279.65 L238.5,280.29 L239,279.81 L239.5,280.5 L240,279.68 L240.5,280.64 L241,279.82 L241.5,280.69 L242,279.43 L242.5,280.7 L243,279.31 L243.5,280.69 L244,279.5 L244.5,280.16 L245,279.4 L245.5,280.25 L246,279.67 L246.5,280.55 L247,279.54 L247.5,280.4 L248,279.29 L248.5,280.52 L249,279.65 L249.5,280.3 L250,279.33 L250.5,280.44 L251,279.38 L251.5,280.36 L252,279.73 L252.5,280.47 L253,279.36 L253.5,280.25 L254,279.37 L254.5,280.7 L255,279.37 L255.5,280.64 L256,279.85 L256.5,280.53 L257,279.33 L257.5,280.18 L258,279.69 L258.5,280.31 L259,279.53 L259.5,280.4 L260,279.57 L260.5,280.62 L261,279.85 L261.5,280.18 L262,280" fill="none" stroke="#111" stroke-width="1.15" stroke-linejoin="round"/>
</g>
<path d="M119.2,278.5 L121,278.5 M119.2,274.3 L121,274.3 M119.2,270.1 L121,270.1 M119.2,265.9 L121,265.9 M119.2,261.7 L121,261.7 M119.2,257.5 L121,257.5 M119.2,253.3 L121,253.3 M119.2,249.1 L121,249.1 M119.2,244.9 L121,244.9 M119.2,240.7 L121,240.7 M119.2,236.5 L121,236.5 M119.2,232.3 L121,232.3 M119.2,228.1 L121,228.1 M119.2,223.9 L121,223.9 M119.2,219.7 L121,219.7 M119.2,215.5 L121,215.5 M119.2,211.3 L121,211.3 M119.2,207.1 L121,207.1 M121,280.5 L121,283 M131.64,280.5 L131.64,282.1 M137.87,280.5 L137.87,282.1 M142.28,280.5 L142.28,282.1 M145.71,280.5 L145.71,282.1 M148.51,280.5 L148.51,282.1 M150.87,280.5 L150.87,282.1 M152.92,280.5 L152.92,282.1 M154.73,280.5 L154.73,282.1 M156.35,280.5 L156.35,283 M166.99,280.5 L166.99,282.1 M173.22,280.5 L173.22,282.1 M177.63,280.5 L177.63,282.1 M181.06,280.5 L181.06,282.1 M183.86,280.5 L183.86,282.1 M186.22,280.5 L186.22,282.1 M188.27,280.5 L188.27,282.1 M190.08,280.5 L190.08,282.1 M191.7,280.5 L191.7,283 M202.34,280.5 L202.34,282.1 M208.57,280.5 L208.57,282.1 M212.98,280.5 L212.98,282.1 M216.41,280.5 L216.41,282.1 M219.21,280.5 L219.21,282.1 M221.57,280.5 L221.57,282.1 M223.62,280.5 L223.62,282.1 M225.43,280.5 L225.43,282.1 M227.05,280.5 L227.05,283 M237.69,280.5 L237.69,282.1 M243.92,280.5 L243.92,282.1 M248.33,280.5 L248.33,282.1 M251.76,280.5 L251.76,282.1 M254.56,280.5 L254.56,282.1 M256.92,280.5 L256.92,282.1 M258.97,280.5 L258.97,282.1 M260.78,280.5 L260.78,282.1" stroke="#444" stroke-width="0.8" fill="none"/>
<rect x="121" y="202.3" width="141.4" height="78.2" fill="none" stroke="#444" stroke-width="1.1"/>
<path d="M121,221.8 L189.3,221.8 M189.3,216.3 L189.3,227.2" stroke="#8a8a8a" stroke-width="1.4" fill="none"/>
<text x="141.5" y="218.5" font-size="10.5" fill="#222" stroke="#222" stroke-width="0.25" textLength="30.5" lengthAdjust="spacingAndGlyphs">50.1 %</text>
<text x="146.5" y="233.1" font-size="10.5" fill="#222" stroke="#222" stroke-width="0.25" textLength="24.3" lengthAdjust="spacingAndGlyphs">2.5 %</text>
<text x="235.4" y="220.2" font-size="15.8" fill="#222" stroke="#222" stroke-width="0.3" textLength="24" lengthAdjust="spacingAndGlyphs">RAJI</text>
<clipPath id="c2"><rect x="287.2" y="199.5" width="141" height="79.5"/></clipPath>
<g clip-path="url(#c2)">
<path d="M311,279 L311.8,278.46 L312.6,278.2 L313.19,278.06 L313.78,277.46 L314.37,277.86 L314.96,276.48 L315.54,276.87 L316.13,276.02 L316.72,276.4 L317.31,275.49 L317.9,275.5 L318.49,275.63 L319.08,274.55 L319.67,275.37 L320.26,274.28 L320.84,274.72 L321.43,273.87 L322.02,274.26 L322.61,273.28 L323.2,273.6 L323.79,274.15 L324.38,272.95 L324.97,273.5 L325.56,272.87 L326.15,273.49 L326.75,272.34 L327.34,273.57 L327.93,272.27 L328.52,273.38 L329.11,271.87 L329.7,272.4 L330.25,272.84 L330.8,271.8 L331.35,272.76 L331.9,271.41 L332.45,272.58 L333,271.28 L333.55,272.48 L334.1,271.49 L334.65,272.41 L335.2,271 L335.75,271.92 L336.3,271.6 L336.87,271.16 L337.44,272.3 L338.01,270.99 L338.59,272.85 L339.16,271.55 L339.73,272.98 L340.3,272.2 L340.86,271.69 L341.41,273.08 L341.97,272.47 L342.53,273.49 L343.09,272.77 L343.64,274.35 L344.2,274 L344.79,273.42 L345.38,274.95 L345.97,273.86 L346.56,275.18 L347.14,274.23 L347.73,275.08 L348.32,274.52 L348.91,275.3 L349.5,275.3 L350.08,275.13 L350.66,275.99 L351.23,275.3 L351.81,275.71 L352.39,275.38 L352.97,276.26 L353.54,275.45 L354.12,275.89 L354.7,275.8 L355.29,275.29 L355.88,276.15 L356.46,275.44 L357.05,276.59 L357.64,275.61 L358.22,276.87 L358.81,275.9 L359.4,276.4 L360,276.84 L360.6,276.05 L361.2,276.64 L361.8,275.59 L362.4,276.42 L363,275.8 L363.67,274.48 L364.33,274.27 L365,272.5 L365.6,268.6 L366.2,267.16 L366.8,264 L367.5,259.17 L368.2,256 L368.9,252.17 L369.6,246 L370.6,235 L371.6,222 L372.4,212 L373.2,203 L373.6,199 L374.25,197.45 L374.9,199.71 L375.55,198.38 L376.2,199 L376.6,205 L377.3,215 L378.1,225 L379,235 L379.67,240.65 L380.33,243.62 L381,249.8 L381.67,254.68 L382.33,255.74 L383,260.1 L383.75,264.51 L384.5,267.4 L385.25,269.8 L386,273.3 L386.7,275.89 L387.4,277.8 L388.2,278.14 L389,279 Z" fill="#737373" stroke="#2a2a2a" stroke-width="0.9"/>
<path d="M287.2,278.6 L287.71,278.38 L288.21,279.07 L288.72,277.8 L289.23,279 L289.73,277.93 L290.24,278.82 L290.75,277.95 L291.25,279.19 L291.76,277.94 L292.27,279.03 L292.77,278.05 L293.28,279.1 L293.79,277.77 L294.29,278.77 L294.8,278.28 L295.31,279.14 L295.81,277.73 L296.32,278.98 L296.83,278.02 L297.33,279.1 L297.84,278.18 L298.35,278.79 L298.85,278.15 L299.36,278.99 L299.87,278.06 L300.37,278.74 L300.88,277.8 L301.39,279.2 L301.89,278.05 L302.4,279.03 L302.91,277.96 L303.41,279.11 L303.92,277.83 L304.43,278.71 L304.93,278.06 L305.44,278.54 L305.95,277.87 L306.45,278.77 L306.96,278.06 L307.47,278.74 L307.97,277.95 L308.48,279 L308.99,278.05 L309.49,279.13 L310,278.3 L310.56,277.49 L311.11,278.32 L311.67,276.86 L312.23,277.95 L312.79,275.93 L313.34,277.18 L313.9,276.2 L314.4,275.12 L314.9,276.3 L315.4,273.87 L315.9,275.22 L316.4,273.09 L316.9,275.06 L317.4,272.49 L317.9,272.9 L318.42,273.09 L318.94,271.49 L319.46,272.96 L319.98,270.06 L320.5,270.9 L321.04,272.34 L321.58,268.8 L322.12,270.83 L322.66,269.21 L323.2,269.6 L323.76,270.09 L324.31,268.35 L324.87,270.26 L325.43,266.67 L325.99,270.06 L326.54,267.04 L327.1,267.6 L327.6,269.42 L328.1,266.49 L328.6,268.53 L329.1,265.61 L329.6,267.81 L330.1,266.55 L330.6,268.97 L331.1,267 L331.66,265.95 L332.21,267.87 L332.77,265.22 L333.33,268.26 L333.89,266.04 L334.44,267.46 L335,266.3 L335.56,264.96 L336.11,267.48 L336.67,265.19 L337.23,267.5 L337.79,263.63 L338.34,266.98 L338.9,265.7 L339.44,263.63 L339.98,265.35 L340.52,263.01 L341.06,265.45 L341.6,263 L342.12,261.27 L342.64,263.79 L343.16,257.46 L343.68,260.15 L344.2,258.4 L344.72,254.5 L345.24,257.82 L345.76,252.83 L346.28,256.66 L346.8,253.2 L347.3,251.07 L347.8,253.77 L348.3,248.56 L348.8,249.9 L349.3,253.26 L349.8,250.31 L350.3,254.79 L350.8,253.2 L351.32,251.07 L351.84,256.97 L352.36,253.65 L352.88,257.19 L353.4,257.1 L353.94,256.11 L354.48,260.15 L355.02,257.18 L355.56,262.52 L356.1,261.1 L356.62,259.77 L357.14,263.1 L357.66,260.72 L358.18,265.05 L358.7,263.7 L359.25,263.41 L359.8,267.08 L360.35,263.7 L360.9,266 L361.45,266.33 L362,262.98 L362.55,265.64 L363.1,264.5 L363.65,262.18 L364.2,264.44 L364.75,259.24 L365.3,260.1 L365.85,260.18 L366.4,254.25 L366.95,256.25 L367.5,252.7 L368,248.38 L368.5,247.79 L369,243.8 L369.5,240.1 L370,240.25 L370.5,235 L371.1,230.26 L371.7,232.24 L372.3,228 L372.87,223.62 L373.43,225.46 L374,222 L374.55,218.26 L375.1,217 L375.8,210 L376.2,203 L376.4,198 L376.9,199.52 L377.4,198 L378.2,204 L378.85,204.36 L379.5,210.1 L380.05,213.65 L380.6,215.8 L381.1,216.79 L381.6,221.4 L382.1,226.89 L382.6,230 L383.15,235.45 L383.7,245.8 L384.35,252.85 L385,257 L385.5,259.43 L386,265.9 L386.5,268.4 L387,268.95 L387.5,273.12 L388,273.5 L388.7,274.62 L389.4,276.9 L389.92,277.97 L390.43,277.06 L390.95,277.93 L391.47,277.52 L391.98,278.24 L392.5,278.2 L393,277.55 L393.5,278.94 L394,278.04 L394.5,278.67 L395,277.99 L395.5,279.11 L396,277.82 L396.5,279.2 L397,278.6 L397.5,278.06 L398,278.85 L398.5,278.19 L399,278.88 L399.5,278.1 L400,279.12 L400.5,278.31 L401,278.92 L401.5,277.94 L402,278.78 L402.5,277.93 L403,279.33 L403.5,277.83 L404,279 L404.5,278.09 L405,279.13 L405.5,278.04 L406,279.38 L406.5,278 L407,278.95 L407.5,277.89 L408,279.07 L408.5,278.06 L409,279.22 L409.5,278.44 L410,279.25 L410.5,278.02 L411,279.07 L411.5,278.11 L412,279.05 L412.5,278.32 L413,279.1 L413.5,278.42 L414,279.08 L414.5,278.03 L415,279.04 L415.5,278.08 L416,279.37 L416.5,277.87 L417,278.85 L417.5,277.93 L418,279.16 L418.5,278.41 L419,278.99 L419.5,278.29 L420,278.81 L420.5,278.1 L421,279.35 L421.5,278.23 L422,279.32 L422.5,278 L423,278.85 L423.5,277.89 L424,279.14 L424.5,277.85 L425,279.22 L425.5,277.97 L426,278.98 L426.5,277.93 L427,279.35 L427.5,277.89 L428,278.6" fill="none" stroke="#111" stroke-width="1.3" stroke-linejoin="round"/>
</g>
<path d="M285.4,277 L287.2,277 M285.4,272.8 L287.2,272.8 M285.4,268.6 L287.2,268.6 M285.4,264.4 L287.2,264.4 M285.4,260.2 L287.2,260.2 M285.4,256 L287.2,256 M285.4,251.8 L287.2,251.8 M285.4,247.6 L287.2,247.6 M285.4,243.4 L287.2,243.4 M285.4,239.2 L287.2,239.2 M285.4,235 L287.2,235 M285.4,230.8 L287.2,230.8 M285.4,226.6 L287.2,226.6 M285.4,222.4 L287.2,222.4 M285.4,218.2 L287.2,218.2 M285.4,214 L287.2,214 M285.4,209.8 L287.2,209.8 M285.4,205.6 L287.2,205.6 M287.2,279 L287.2,281.5 M297.81,279 L297.81,280.6 M304.02,279 L304.02,280.6 M308.42,279 L308.42,280.6 M311.84,279 L311.84,280.6 M314.63,279 L314.63,280.6 M316.99,279 L316.99,280.6 M319.03,279 L319.03,280.6 M320.84,279 L320.84,280.6 M322.45,279 L322.45,281.5 M333.06,279 L333.06,280.6 M339.27,279 L339.27,280.6 M343.67,279 L343.67,280.6 M347.09,279 L347.09,280.6 M349.88,279 L349.88,280.6 M352.24,279 L352.24,280.6 M354.28,279 L354.28,280.6 M356.09,279 L356.09,280.6 M357.7,279 L357.7,281.5 M368.31,279 L368.31,280.6 M374.52,279 L374.52,280.6 M378.92,279 L378.92,280.6 M382.34,279 L382.34,280.6 M385.13,279 L385.13,280.6 M387.49,279 L387.49,280.6 M389.53,279 L389.53,280.6 M391.34,279 L391.34,280.6 M392.95,279 L392.95,281.5 M403.56,279 L403.56,280.6 M409.77,279 L409.77,280.6 M414.17,279 L414.17,280.6 M417.59,279 L417.59,280.6 M420.38,279 L420.38,280.6 M422.74,279 L422.74,280.6 M424.78,279 L424.78,280.6 M426.59,279 L426.59,280.6" stroke="#444" stroke-width="0.8" fill="none"/>
<rect x="287.2" y="199.5" width="141" height="79.5" fill="none" stroke="#444" stroke-width="1.1"/>
<path d="M287.2,232 L358.2,232 M358.2,226.6 L358.2,237.4" stroke="#8a8a8a" stroke-width="1.4" fill="none"/>
<text x="306" y="228.8" font-size="10.5" fill="#222" stroke="#222" stroke-width="0.25" textLength="30" lengthAdjust="spacingAndGlyphs">33.5 %</text>
<text x="306.5" y="243.1" font-size="10.5" fill="#222" stroke="#222" stroke-width="0.25" textLength="29.5" lengthAdjust="spacingAndGlyphs">12.1 %</text>
<text x="399" y="215.6" font-size="15" fill="#222" stroke="#222" stroke-width="0.3" textLength="28" lengthAdjust="spacingAndGlyphs">BJAB</text>
<path d="M213.2,294.3 L334,294.3" stroke="#222" stroke-width="1.5"/>
<path d="M332.5,290.8 L342.5,294.3 L332.5,297.8 Z" fill="#222"/>
<text x="221.2" y="314.6" font-size="14" fill="#222" stroke="#222" stroke-width="0.25" textLength="108.5" lengthAdjust="spacingAndGlyphs">Propidium Iodide</text>
</svg>
</body></html>
